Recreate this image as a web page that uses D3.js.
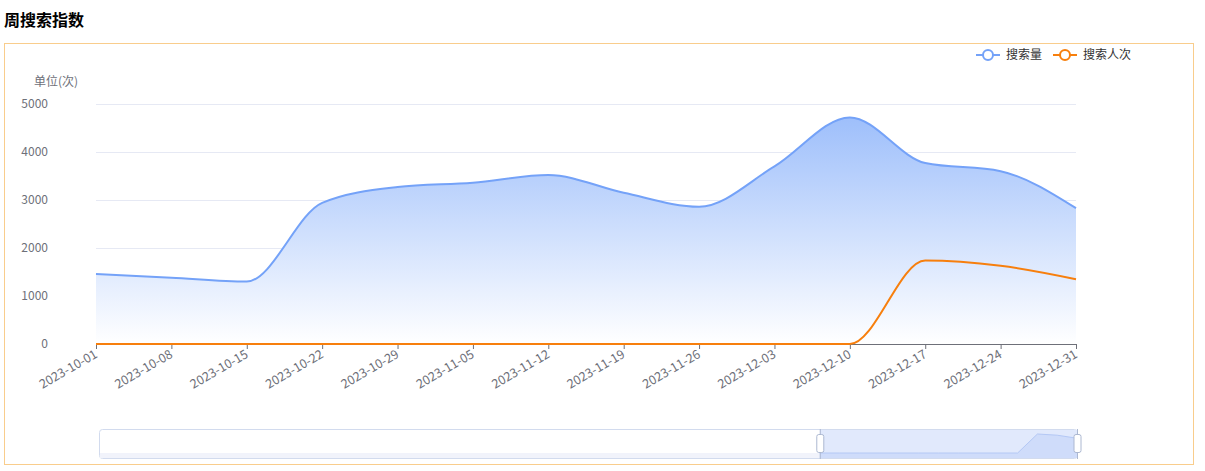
<!DOCTYPE html>
<html><head><meta charset="utf-8">
<script src="https://cdn.jsdelivr.net/npm/d3@7/dist/d3.min.js"></script>
<style>
body{margin:0;background:#fff;font-family:"Microsoft YaHei","Noto Sans CJK SC",sans-serif;}
</style></head>
<body>
<svg id="c" width="1205" height="471"></svg>
<script>
const title = "周搜索指数";
const categories = ["2023-10-01","2023-10-08","2023-10-15","2023-10-22","2023-10-29","2023-11-05","2023-11-12","2023-11-19","2023-11-26","2023-12-03","2023-12-10","2023-12-17","2023-12-24","2023-12-31"];
const searchVolume = [1460,1380,1300,2940,3270,3360,3520,3150,2860,3700,4720,3770,3600,2830];
const searchUsers = [0,0,0,0,0,0,0,0,0,0,0,1740,1630,1350];
const seriesNames = ["搜索量","搜索人次"];
const yTicks = [0,1000,2000,3000,4000,5000];
const yUnit = "单位(次)";

const svg = d3.select("#c");
const font = '"Microsoft YaHei","Noto Sans CJK SC",sans-serif';
const blue = "#74a2f8", orange = "#f77f0d";

svg.append("text").attr("x",4).attr("y",26).text(title)
  .attr("font-size",16).attr("font-weight","bold").attr("fill","#000").attr("font-family",font);

svg.append("rect").attr("x",4.5).attr("y",43.5).attr("width",1189).attr("height",421)
  .attr("fill","none").attr("stroke","#f9cd8c").attr("stroke-width",1);

const x = d3.scalePoint().domain(categories).range([96,1076]);
const y = d3.scaleLinear().domain([0,5000]).range([344,104]);

// grid
svg.append("g").selectAll("line").data(yTicks.filter(d=>d>0)).join("line")
  .attr("x1",96).attr("x2",1076).attr("y1",d=>y(d)+0.5).attr("y2",d=>y(d)+0.5)
  .attr("stroke","#e6e9f4").attr("stroke-width",1);

// y labels
svg.append("g").selectAll("text").data(yTicks).join("text")
  .attr("x",48).attr("y",d=>y(d)+4).attr("text-anchor","end")
  .attr("font-size",12).attr("fill","#6e7079").attr("font-family",font).text(d=>d);
svg.append("text").attr("x",56).attr("y",86).attr("text-anchor","middle")
  .attr("font-size",12).attr("fill","#6e7079").attr("font-family",font).text(yUnit);

// gradient
const defs = svg.append("defs");
const maxV = d3.max(searchVolume);
const g = defs.append("linearGradient").attr("id","ga").attr("gradientUnits","userSpaceOnUse")
  .attr("x1",0).attr("x2",0).attr("y1",y(maxV)).attr("y2",y(0));
g.append("stop").attr("offset",0).attr("stop-color","#9ebffb");
g.append("stop").attr("offset",1).attr("stop-color","#ffffff");

const curve = d3.curveMonotoneX;
const area = d3.area().x((d,i)=>x(categories[i])).y0(y(0)).y1(d=>y(d)).curve(curve);
const line = d3.line().x((d,i)=>x(categories[i])).y(d=>y(d)).curve(curve);

svg.append("path").datum(searchVolume).attr("d",area).attr("fill","url(#ga)");

// x axis
const xa = svg.append("g").attr("transform","translate(0,344)");
xa.append("line").attr("x1",96).attr("x2",1076).attr("y1",0.5).attr("y2",0.5).attr("stroke","#6e7079");
xa.selectAll("line.t").data(categories).join("line").attr("class","t")
  .attr("x1",d=>x(d)+0.5).attr("x2",d=>x(d)+0.5).attr("y1",0).attr("y2",5).attr("stroke","#6e7079");
xa.selectAll("text").data(categories).join("text")
  .attr("transform",d=>`translate(${x(d)},${9}) rotate(-30)`)
  .attr("text-anchor","end").attr("dy","0.35em")
  .attr("font-size",12.5).attr("fill","#6e7079").attr("font-family",font).text(d=>d);

svg.append("path").datum(searchVolume).attr("d",line).attr("fill","none").attr("stroke",blue).attr("stroke-width",2);
svg.append("path").datum(searchUsers).attr("d",line).attr("fill","none").attr("stroke",orange).attr("stroke-width",2);

// legend
const legend = [{name:seriesNames[0],c:blue,x:976},{name:seriesNames[1],c:orange,x:1053}];
const lg = svg.append("g").selectAll("g").data(legend).join("g").attr("transform",d=>`translate(${d.x},55)`);
lg.append("line").attr("x1",0).attr("x2",24).attr("y1",0).attr("y2",0).attr("stroke",d=>d.c).attr("stroke-width",2);
lg.append("circle").attr("cx",12).attr("cy",0).attr("r",5).attr("fill","#fff").attr("stroke",d=>d.c).attr("stroke-width",2);
lg.append("text").attr("x",30).attr("y",4).attr("font-size",12).attr("fill","#333").attr("font-family",font).text(d=>d.name);

// data zoom slider
const sz = {x0:99,x1:1077,y0:429,y1:458};
const startFrac = 0.737;
const fx0 = sz.x0 + (sz.x1-sz.x0)*startFrac, fx1 = sz.x1;
svg.append("rect").attr("x",sz.x0+0.5).attr("y",sz.y0+0.5).attr("width",sz.x1-sz.x0).attr("height",sz.y1-sz.y0)
  .attr("rx",3).attr("fill","#fff").attr("stroke","#d2dbee");
svg.append("rect").attr("x",sz.x0+1).attr("y",453).attr("width",sz.x1-sz.x0-1).attr("height",5).attr("fill","#f1f3fb");
svg.append("rect").attr("x",fx0).attr("y",sz.y0+1).attr("width",fx1-fx0).attr("height",sz.y1-sz.y0-1).attr("fill","#e1e9fc");
// shadow
const sx = d3.scalePoint().domain(categories).range([fx0,fx1]);
const sy = d3.scaleLinear().domain([0,d3.max(searchUsers)]).range([453,434]);
svg.append("path").datum(searchUsers)
  .attr("d",d3.area().x((d,i)=>sx(categories[i])).y0(sz.y1).y1(d=>sy(d)))
  .attr("fill","#cfdcfa");
svg.append("path").datum(searchUsers)
  .attr("d",d3.line().x((d,i)=>sx(categories[i])).y(d=>sy(d)))
  .attr("fill","none").attr("stroke","#b4c8f5").attr("stroke-width",1);
[fx0,fx1].forEach(px=>{
  svg.append("line").attr("x1",px+0.5).attr("x2",px+0.5).attr("y1",sz.y0).attr("y2",sz.y1+1).attr("stroke","#acb8d1");
  svg.append("rect").attr("x",px-3).attr("y",434.5).attr("width",7).attr("height",18).attr("rx",2)
    .attr("fill","#fff").attr("stroke","#acb8d1");
});
</script>
</body></html>
